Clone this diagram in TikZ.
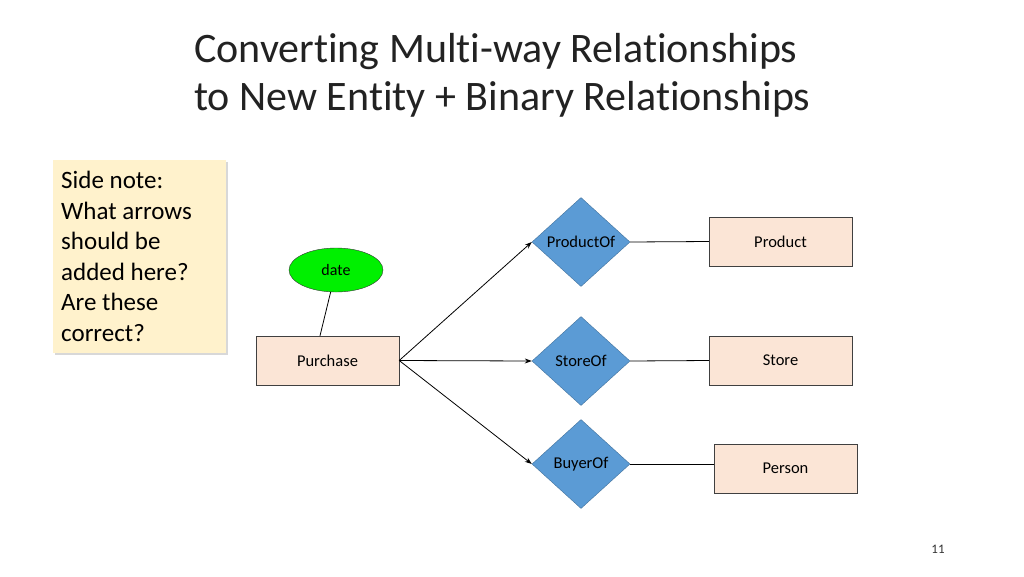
\documentclass[tikz,border=0pt]{standalone}
\usepackage{fontspec}
\setmainfont{Carlito}[Ligatures={NoCommon,TeX}]
\usetikzlibrary{shapes.geometric,arrows.meta,shadows}
\definecolor{relblue}{HTML}{5B9BD5}
\definecolor{relborder}{HTML}{41719C}
\definecolor{entfill}{HTML}{FBE5D6}
\definecolor{notefill}{HTML}{FFF2CC}
\definecolor{attrgreen}{HTML}{00F000}
\definecolor{titlegray}{HTML}{222222}
\tikzset{
  entity/.style={draw=black!75, fill=entfill, minimum width=143pt, minimum height=49pt, inner sep=0pt, font=\fontsize{16.5}{18}\selectfont},
  rel/.style={diamond, draw=relborder, fill=relblue, minimum width=98pt, minimum height=89pt, inner sep=0pt, font=\fontsize{16.5}{18}\selectfont},
  attr/.style={ellipse, draw=black!80, fill=attrgreen, minimum width=94pt, minimum height=44pt, inner sep=0pt, font=\fontsize{16}{18}\selectfont},
  conn/.style={draw=black, line width=0.8pt},
  arr/.style={conn, -{Stealth[length=7pt,width=5pt]}},
  titletext/.style={anchor=base west, inner sep=0pt, text=titlegray, font=\fontsize{42}{50}\selectfont}
}
\begin{document}
\begin{tikzpicture}[x=1pt,y=-1pt]
\useasboundingbox[fill=white] (0,0) rectangle (1024,576);
% title
\node[titletext] (t1) at (194,62) {Converting Multi-way Relationships};
\node[titletext] (t2) at (194,110) {to New Entity + Binary Relationships};
% side note
\node[anchor=north west, minimum width=173pt, minimum height=193pt, fill=notefill, drop shadow={shadow xshift=1.5pt, shadow yshift=-1.5pt, opacity=0.3}] (note) at (53,160) {};
\node[anchor=north west, inner sep=0pt, align=left, font=\fontsize{25}{30.6}\selectfont] (notetext) at (61,171) {Side note:\\What arrows\\should be\\added here?\\Are these\\correct?};
% entities
\node[entity] (purchase) at (327.5,360.5) {Purchase};
\node[entity] (product) at (780.5,241.5) {Product};
\node[entity] (store) at (780.5,360.5) {Store};
\node[entity] (person) at (785.5,468.5) {Person};
% attribute
\node[attr] (date) at (336,270) {date};
% relationships
\node[rel] (productof) at (581,242) {ProductOf};
\node[rel] (storeof) at (581,361) {StoreOf};
\node[rel] (buyerof) at (581,464) {BuyerOf};
% connectors
\draw[conn] (date) -- (purchase.north west -| 320,0);
\draw[arr] (purchase.east) -- (productof.west);
\draw[arr] (purchase.east) -- (storeof.west);
\draw[arr] (purchase.east) -- (buyerof.west);
\draw[conn] (productof.east) -- (product.west);
\draw[conn] (storeof.east) -- (store.west);
\coordinate (personin) at (person.west |- buyerof.east);
\draw[conn] (buyerof.east) -- (personin);
% page number
\node[font=\fontsize{13}{15}\selectfont, text=black!80] (pagenum) at (938,549) {11};
\end{tikzpicture}
\end{document}
